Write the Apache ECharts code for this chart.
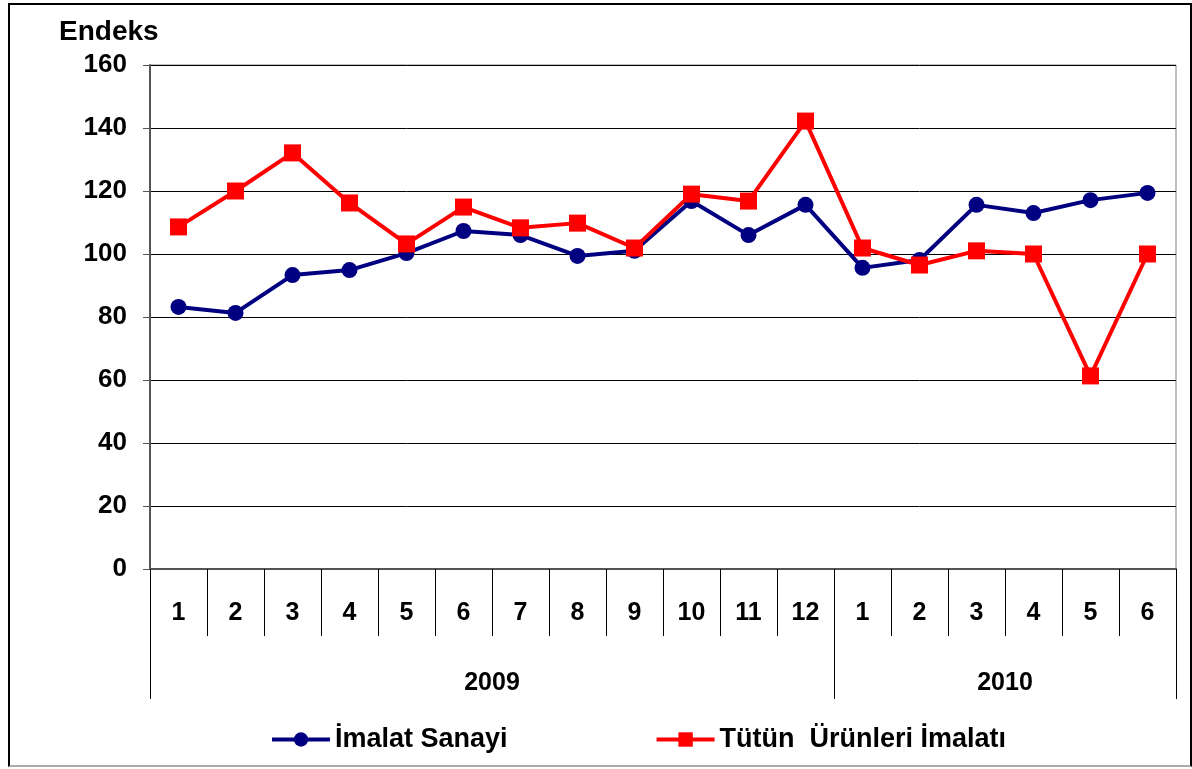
<!DOCTYPE html>
<html lang="tr" style="height: 100%">

<head>
    <meta charset="UTF-8">
    <title>Endeks</title>
    <script src="https://cdn.jsdelivr.net/npm/echarts@6/dist/echarts.min.js"></script>
</head>

<body style="height: 100%; margin: 0">
    <div id="main" style="width: 1192px; height: 769px"></div>
    <div style="position: absolute; left: 8px; top: 3px; width: 1180px; height: 760px; border: 2px solid #000; border-bottom-color: #aaa; pointer-events: none"></div>
    <script>
        // aylar (2009: 1-12, 2010: 1-6)
        var months = ['1', '2', '3', '4', '5', '6', '7', '8', '9', '10', '11', '12', '1', '2', '3', '4', '5', '6'];
        var years = ['2009', '2010'];
        var yearBounds = [0, 12, 18];   // yıl kutularının sınırları (ay sırası)
        var yearCenters = [6, 15];
        var imalat = [83.2, 81.3, 93.3, 94.9, 100.3, 107.3, 106.0, 99.4, 101.0, 116.8, 106.0, 115.6,
            95.6, 98.1, 115.6, 113.0, 117.1, 119.4];
        var tutun = [108.6, 120.0, 132.1, 116.2, 103.2, 114.9, 108.3, 109.8, 101.9, 119.0, 116.8, 142.2,
            101.9, 96.5, 101.0, 100.0, 61.3, 100.0];

        var font = 'Liberation Sans, Arial, sans-serif';
        var myChart = echarts.init(document.getElementById('main'));

        var option = {
            animation: false,
            title: {
                text: 'Endeks',
                left: 54,
                top: 13,
                textStyle: { fontFamily: font, fontSize: 28, fontWeight: 'bold', color: '#000' }
            },
            legend: {
                left: 265,
                top: 721,
                itemWidth: 58,
                itemHeight: 18,
                itemGap: 147,
                lineStyle: { width: 4 },
                textStyle: { fontFamily: font, fontSize: 27, fontWeight: 'bold', color: '#000' },
                data: ['İmalat Sanayi', 'Tütün  Ürünleri İmalatı']
            },
            grid: {
                left: 150,
                right: 16,
                top: 65,
                bottom: 200,
                show: true,
                borderColor: '#808080',
                borderWidth: 1
            },
            xAxis: [
                {
                    type: 'category',
                    data: months,
                    boundaryGap: true,
                    axisLine: { lineStyle: { color: '#555', width: 2 } },
                    axisTick: { show: true, interval: 0, length: 67, lineStyle: { color: '#000', width: 1 } },
                    axisLabel: {
                        interval: 0, margin: 32,
                        fontFamily: font, fontSize: 25, fontWeight: 'bold', color: '#000'
                    }
                },
                {
                    type: 'value',
                    position: 'bottom',
                    min: 0,
                    max: 18,
                    axisLine: { show: false },
                    splitLine: { show: false },
                    axisTick: { show: true, customValues: yearBounds, length: 130, lineStyle: { color: '#000' } },
                    axisLabel: {
                        customValues: yearCenters,
                        margin: 102,
                        formatter: function (v) { return years[yearCenters.indexOf(v)]; },
                        fontFamily: font, fontSize: 25, fontWeight: 'bold', color: '#000'
                    }
                }
            ],
            yAxis: {
                type: 'value',
                min: 0,
                max: 160,
                interval: 20,
                axisLine: { show: true, lineStyle: { color: '#555', width: 2 } },
                axisTick: { show: true, length: 7, lineStyle: { color: '#555' } },
                splitLine: { lineStyle: { color: '#000', width: 1 } },
                axisLabel: {
                    margin: 23,
                    fontFamily: font, fontSize: 26, fontWeight: 'bold', color: '#000'
                }
            },
            series: [
                {
                    name: 'İmalat Sanayi',
                    type: 'line',
                    data: imalat,
                    xAxisIndex: 0,
                    symbol: 'circle',
                    symbolSize: 16,
                    lineStyle: { color: '#000080', width: 4 },
                    itemStyle: { color: '#000080' }
                },
                {
                    name: 'Tütün  Ürünleri İmalatı',
                    type: 'line',
                    data: tutun,
                    xAxisIndex: 0,
                    symbol: 'rect',
                    symbolSize: 17,
                    lineStyle: { color: '#ff0000', width: 4 },
                    itemStyle: { color: '#ff0000' }
                }
            ]
        };

        myChart.setOption(option);
        window.addEventListener('resize', myChart.resize);
    </script>
</body>

</html>
